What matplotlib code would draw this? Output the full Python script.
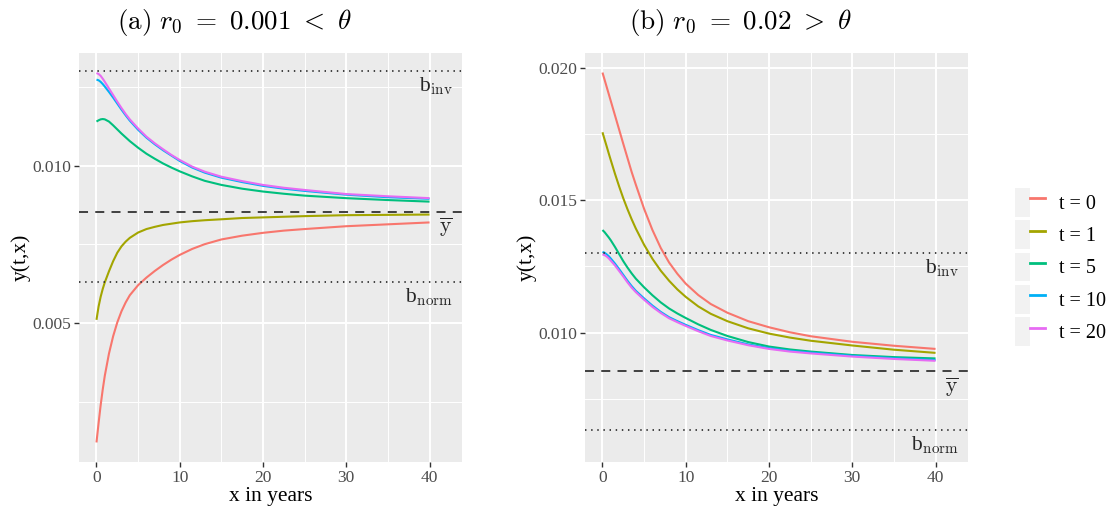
import matplotlib
matplotlib.use("Agg")
import matplotlib.pyplot as plt
from matplotlib.patches import Rectangle
from matplotlib.lines import Line2D
from matplotlib.legend_handler import HandlerTuple
from matplotlib.ticker import MultipleLocator

plt.rcParams['font.family'] = ['Liberation Serif', 'DejaVu Serif']
plt.rcParams['mathtext.fontset'] = 'cm'

# x in years (common grid for every curve)
X = [0, 0.25, 0.5, 0.75, 1, 1.5, 2, 2.5, 3, 3.5, 4, 5, 6, 7, 8, 9, 10,
     11.5, 13, 15, 17.5, 20, 22.5, 25, 30, 35, 40]

LABELS = ["t = 0", "t = 1", "t = 5", "t = 10", "t = 20"]
COLORS = ["#F8766D", "#A3A500", "#00BF7D", "#00B0F6", "#E76BF3"]

# panel (a): r0 = 0.001
A_T0 = [0.00122, 0.00183, 0.00240, 0.00290, 0.00334, 0.00404, 0.00459, 0.00503, 0.00538,
        0.00566, 0.00589, 0.00621, 0.00645, 0.00666, 0.00685, 0.00702, 0.00717,
        0.00736, 0.00751, 0.00766, 0.00778, 0.00787, 0.00794, 0.00799, 0.00808, 0.00814, 0.00820]
A_T1 = [0.00511, 0.00553, 0.00584, 0.00609, 0.00630, 0.00665, 0.00697, 0.00724, 0.00744,
        0.00759, 0.00771, 0.00788, 0.00799, 0.00806, 0.00812, 0.00816, 0.00820,
        0.00824, 0.00827, 0.00830, 0.00834, 0.00836, 0.00838, 0.00840, 0.00843, 0.00844, 0.00845]
A_T5 = [0.01140, 0.01144, 0.01147, 0.01148, 0.01147, 0.01140, 0.01128, 0.01115, 0.01102,
        0.01090, 0.01078, 0.01057, 0.01038, 0.01022, 0.01007, 0.00994, 0.00982,
        0.00966, 0.00952, 0.00939, 0.00927, 0.00918, 0.00911, 0.00905, 0.00897, 0.00891, 0.00886]
A_T10 = [0.01273, 0.01271, 0.01266, 0.01259, 0.01251, 0.01234, 0.01216, 0.01197, 0.01178,
         0.01160, 0.01143, 0.01114, 0.01089, 0.01068, 0.01049, 0.01032, 0.01015,
         0.00994, 0.00978, 0.00962, 0.00948, 0.00936, 0.00927, 0.00920, 0.00908, 0.00900, 0.00895]
A_T20 = [0.01294, 0.01291, 0.01285, 0.01276, 0.01266, 0.01245, 0.01224, 0.01203, 0.01183,
         0.01164, 0.01147, 0.01118, 0.01092, 0.01071, 0.01052, 0.01034, 0.01018,
         0.00997, 0.00981, 0.00965, 0.00951, 0.00939, 0.00930, 0.00923, 0.00910, 0.00903, 0.00897]

# panel (b): r0 = 0.02
B_T0 = [0.01984, 0.01957, 0.01930, 0.01903, 0.01876, 0.01822, 0.01768, 0.01714, 0.01661,
        0.01608, 0.01560, 0.01468, 0.01388, 0.01320, 0.01265, 0.01222, 0.01185,
        0.01142, 0.01108, 0.01075, 0.01043, 0.01020, 0.01001, 0.00986, 0.00965, 0.00950, 0.00938]
B_T1 = [0.01758, 0.01731, 0.01705, 0.01678, 0.01652, 0.01601, 0.01553, 0.01508, 0.01467,
        0.01429, 0.01394, 0.01332, 0.01279, 0.01234, 0.01196, 0.01163, 0.01135,
        0.01099, 0.01071, 0.01043, 0.01016, 0.00996, 0.00981, 0.00969, 0.00951, 0.00935, 0.00923]
B_T5 = [0.01388, 0.01380, 0.01370, 0.01360, 0.01349, 0.01324, 0.01297, 0.01270, 0.01246,
        0.01224, 0.01204, 0.01171, 0.01141, 0.01114, 0.01091, 0.01072, 0.01055,
        0.01031, 0.01010, 0.00987, 0.00964, 0.00947, 0.00936, 0.00928, 0.00915, 0.00907, 0.00902]
B_T10 = [0.01305, 0.01302, 0.01296, 0.01289, 0.01280, 0.01261, 0.01240, 0.01218, 0.01196,
         0.01176, 0.01158, 0.01129, 0.01102, 0.01078, 0.01058, 0.01043, 0.01029,
         0.01009, 0.00991, 0.00974, 0.00955, 0.00941, 0.00931, 0.00924, 0.00912, 0.00903, 0.00896]
B_T20 = [0.01296, 0.01293, 0.01288, 0.01281, 0.01272, 0.01254, 0.01233, 0.01212, 0.01190,
         0.01170, 0.01153, 0.01124, 0.01097, 0.01074, 0.01054, 0.01039, 0.01025,
         0.01005, 0.00987, 0.00970, 0.00952, 0.00938, 0.00928, 0.00921, 0.00909, 0.00900, 0.00893]

# reference levels
B_INV = 0.0130
Y_BAR = 0.00854
B_NORM = 0.00632

W, H = 1114, 512
fig = plt.figure(figsize=(W / 100, H / 100), dpi=100)


def panel(rect, series, ylim, title, title_x):
    l, t, r, b = rect
    ax = fig.add_axes([l / W, 1 - b / H, (r - l) / W, (b - t) / H])
    ax.set_facecolor('#EBEBEB')
    for s in ax.spines.values():
        s.set_visible(False)
    ax.set_xlim(-2.1, 43.9)
    ax.set_ylim(*ylim)
    ax.xaxis.set_major_locator(MultipleLocator(10))
    ax.xaxis.set_minor_locator(MultipleLocator(5))
    ax.yaxis.set_major_locator(MultipleLocator(0.005))
    ax.yaxis.set_minor_locator(MultipleLocator(0.0025))
    ax.yaxis.set_major_formatter(lambda v, p: f"{v:.3f}")
    ax.grid(which='major', color='white', lw=1.4)
    ax.grid(which='minor', color='white', lw=0.7)
    ax.set_axisbelow(True)
    ax.tick_params(which='major', length=3.5, width=1.0, color='#333333',
                   labelcolor='#4D4D4D', labelsize=12.5, pad=2)
    ax.tick_params(which='minor', length=0)

    for ys, c, lab in zip(series, COLORS, LABELS):
        ax.plot(X, ys, color=c, lw=1.5, label=lab, solid_capstyle='butt')

    ax.axhline(B_INV, color='#333333', lw=1.3, ls=(0, (0.8, 2.6)))
    ax.axhline(B_NORM, color='#333333', lw=1.3, ls=(0, (0.8, 2.6)))
    ax.axhline(Y_BAR, color='#333333', lw=1.3, ls=(0, (5, 4)))
    for val, txt in [(B_INV, r"b$_{\mathrm{inv}}$"), (Y_BAR, r"$\overline{\mathrm{y}}$"),
                     (B_NORM, r"b$_{\mathrm{norm}}$")]:
        ax.annotate(txt, xy=(42.8, val), xytext=(0, -3), textcoords='offset points',
                    ha='right', va='top', fontsize=15.5, color='#262626')

    ax.set_xlabel("x in years", fontsize=15.5)
    ax.xaxis.set_label_coords(0.5, -0.062)
    ax.set_ylabel("y(t,x)", fontsize=15.5)
    ax.yaxis.set_label_coords(-0.126, 0.5)
    fig.text(title_x / W, 1 - 23 / H, title, ha='center', va='center', fontsize=19.5)
    return ax


ax1 = panel((79, 53, 462, 462), [A_T0, A_T1, A_T5, A_T10, A_T20], (0.0006, 0.013575),
            r"$\mathrm{(a)}\ r_0\ =\ 0.001\ <\ \theta$", 234)
ax2 = panel((585, 53, 968, 462), [B_T0, B_T1, B_T5, B_T10, B_T20], (0.0051, 0.02058),
            r"$\mathrm{(b)}\ r_0\ =\ 0.02\ >\ \theta$", 740)

handles = []
for c in COLORS:
    box = Rectangle((0, 0), 1, 1, facecolor='#F2F2F2', edgecolor='none')
    ln = Line2D([], [], color=c, lw=2.0)
    handles.append((box, ln))
fig.legend(handles, LABELS, handler_map={tuple: HandlerTuple(ndivide=None, pad=0)},
           loc='center left', bbox_to_anchor=(1015 / W, 1 - 267 / H), frameon=False,
           fontsize=14.5, handlelength=1.5, handleheight=1.82, labelspacing=0.18,
           handletextpad=0.7, borderaxespad=0, borderpad=0)

fig.savefig("out.png", dpi=100)
